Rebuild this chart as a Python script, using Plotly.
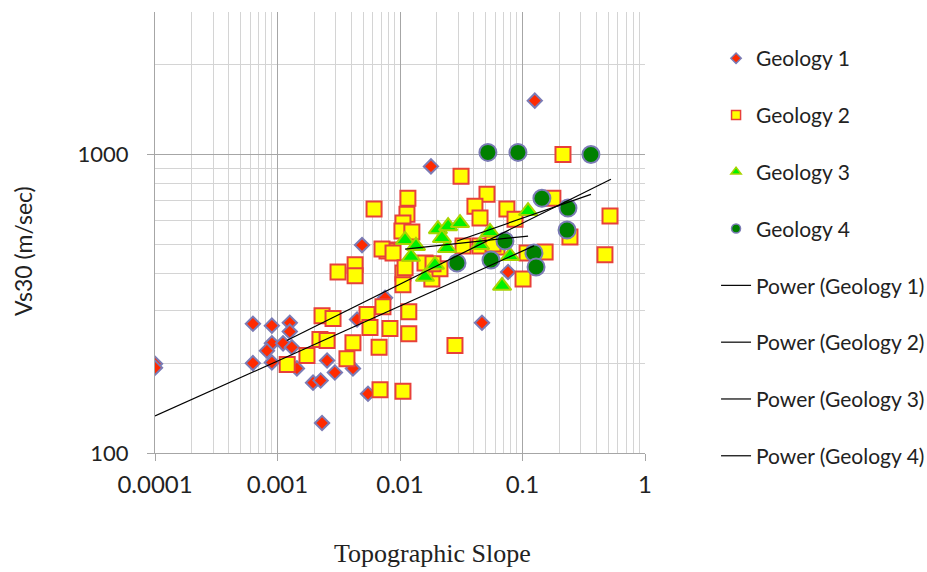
import plotly.graph_objects as go

# ---------------- data ----------------
g1_x = [0.0001, 0.0001, 0.00063, 0.0009, 0.00126, 0.00126, 0.0009, 0.00063, 0.0009, 0.00111,
        0.00131, 0.00144, 0.00195, 0.00225, 0.00254, 0.00294, 0.00413, 0.00548, 0.00231, 0.00446,
        0.0049, 0.00755, 0.0179, 0.0762, 0.0467, 0.126, 0.00082]
g1_y = [199, 193, 271, 267, 273, 255, 233, 200, 201, 233,
        226, 192, 172, 175, 204, 186, 192, 158, 126, 280,
        497, 331, 912, 404, 273, 1514, 220]

g2_x = [0.214, 0.0315, 0.0116, 0.00614, 0.0513, 0.0409, 0.0450, 0.0746, 0.0869, 0.177,
        0.518, 0.244, 0.471, 0.153, 0.109, 0.101, 0.0114, 0.01057, 0.01037, 0.0125,
        0.00828, 0.00783, 0.00713, 0.00877, 0.0043, 0.00312, 0.0043, 0.01057, 0.0110, 0.01057,
        0.0182, 0.0212, 0.0160, 0.0186, 0.0327, 0.0450, 0.0619, 0.0574, 0.00726, 0.00231,
        0.00284, 0.00538, 0.00569, 0.00828, 0.0118, 0.0118, 0.00222, 0.00254, 0.00413, 0.00675,
        0.00174, 0.00369, 0.0012, 0.0281, 0.00687, 0.01057]
g2_y = [1000, 845, 713, 656, 735, 671, 612, 656, 607, 713,
        622, 529, 461, 471, 468, 383, 631, 589, 554, 550,
        479, 475, 482, 468, 427, 404, 392, 401, 417, 366,
        383, 414, 433, 430, 494, 494, 490, 501, 309, 288,
        282, 291, 263, 261, 297, 251, 240, 238, 234, 226,
        212, 207, 198, 229, 163, 161]

g3_x = [0.0110, 0.0135, 0.0123, 0.0160, 0.0193, 0.0204, 0.0247, 0.0309, 0.0242, 0.0450,
        0.0543, 0.0791, 0.0681, 0.111, 0.0220]
g3_y = [517, 494, 454, 389, 427, 562, 575, 589, 486, 497,
        550, 457, 363, 646, 525]

g4_x = [0.0522, 0.0918, 0.362, 0.144, 0.235, 0.231, 0.0719, 0.0292, 0.0553, 0.124, 0.129]
g4_y = [1016, 1016, 1000, 713, 661, 558, 513, 433, 443, 468, 420]

# power trend lines (end points of each fitted curve)
p1_x = [0.0001, 0.124]
p1_y = [133, 494]
p2_x = [0.00119, 0.527]
p2_y = [238, 826]
p3_x = [0.0110, 0.111]
p3_y = [482, 533]
p4_x = [0.0292, 0.362]
p4_y = [513, 735]

series_names = ["Geology 1", "Geology 2", "Geology 3", "Geology 4"]
trend_names = ["Power (Geology 1)", "Power (Geology 2)", "Power (Geology 3)", "Power (Geology 4)"]
x_ticks = [0.0001, 0.001, 0.01, 0.1, 1]
x_tick_text = ["0.0001", "0.001", "0.01", "0.1", "1"]
y_ticks = [100, 1000]
y_tick_text = ["100", "1000"]

# ---------------- styles ----------------
styles = [
    dict(symbol="diamond", size=11, color="#ff2a00", line=dict(color="#7b7bb5", width=2)),
    dict(symbol="square", size=15, color="#ffff00", line=dict(color="#e8403a", width=2)),
    dict(symbol="triangle-up", size=16, color="#00f000", line=dict(color="#a8d400", width=2)),
    dict(symbol="circle", size=17, color="#008000", line=dict(color="#7b7bb5", width=2)),
]
legend_sizes = [8, 9, 9, 9]

fig = go.Figure()
xs = [g1_x, g2_x, g3_x, g4_x]
ys = [g1_y, g2_y, g3_y, g4_y]
for i in range(4):
    fig.add_trace(go.Scatter(x=xs[i], y=ys[i], mode="markers", marker=styles[i],
                             name=series_names[i], showlegend=False, hoverinfo="x+y"))
for i in range(4):
    st = dict(styles[i])
    st["size"] = legend_sizes[i]
    st["line"] = dict(color=styles[i]["line"]["color"], width=1.5)
    fig.add_trace(go.Scatter(x=[None], y=[None], mode="markers", marker=st,
                             name=series_names[i], legendgroup=f"g{i}", showlegend=True))
pxs = [p1_x, p2_x, p3_x, p4_x]
pys = [p1_y, p2_y, p3_y, p4_y]
for i in range(4):
    fig.add_trace(go.Scatter(x=pxs[i], y=pys[i], mode="lines",
                             line=dict(color="black", width=1.2),
                             name=trend_names[i], legendgroup=f"p{i}", showlegend=True))

minor_x = [m * 10 ** k for k in range(-4, 0) for m in range(2, 10)]
minor_y = [m * 10 ** k for k in range(2, 4) for m in range(2, 10) if m * 10 ** k <= 3000]

fig.update_xaxes(type="log", range=[-4, 0], tickmode="array", tickvals=x_ticks, ticktext=x_tick_text,
                 showgrid=True, gridcolor="#a6a6a6", gridwidth=1,
                 minor=dict(tickmode="array", tickvals=minor_x, showgrid=True, gridcolor="#d4d4d4", gridwidth=1),
                 showline=True, linecolor="#a6a6a6", linewidth=1, mirror=False,
                 ticks="outside", ticklen=7, tickcolor="#a6a6a6", ticklabelstandoff=3,
                 tickfont=dict(family="Lato, Carlito, Arial", size=24, color="#222222"), zeroline=False)
fig.update_yaxes(type="log", range=[2, 3.4771], tickmode="array", tickvals=y_ticks, ticktext=y_tick_text,
                 showgrid=True, gridcolor="#a6a6a6", gridwidth=1,
                 minor=dict(tickmode="array", tickvals=minor_y, showgrid=True, gridcolor="#d4d4d4", gridwidth=1),
                 showline=True, linecolor="#a6a6a6", linewidth=1,
                 ticks="outside", ticklen=7, tickcolor="#a6a6a6", ticklabelstandoff=14,
                 tickfont=dict(family="Lato, Carlito, Arial", size=22, color="#222222"), zeroline=False)

fig.add_annotation(text="Vs30 (m/sec)", x=23, y=251, xref="paper", yref="paper",
                   xanchor="center", yanchor="middle",
                   showarrow=False, textangle=-90, font=dict(family="Lato, Arial", size=23, color="#222222"))
fig.add_annotation(text="Topographic Slope", x=432, y=553, xref="paper", yref="paper",
                   xanchor="center", yanchor="middle",
                   showarrow=False, font=dict(family="Liberation Serif, Times New Roman", size=26, color="#222222"))

fig.update_layout(
    width=927, height=572,
    margin=dict(l=155, r=282, t=12, b=119, autoexpand=False),
    plot_bgcolor="white", paper_bgcolor="white",
    legend=dict(x=1.145, y=0.941, xanchor="left", yanchor="top", xref="paper", yref="paper",
                traceorder="grouped", tracegroupgap=26.5, maxheight=560,
                font=dict(family="Lato, Carlito, Arial", size=21, color="#222222"),
                bgcolor="rgba(0,0,0,0)"),
    showlegend=True,
)

# annotation positions given in pixels -> convert to paper coordinates
pw = 927 - 155 - 282
ph = 572 - 12 - 119
for a in fig.layout.annotations:
    a.x = (a.x - 155) / pw
    a.y = (572 - 119 - a.y) / ph

fig.write_html("out.html")
